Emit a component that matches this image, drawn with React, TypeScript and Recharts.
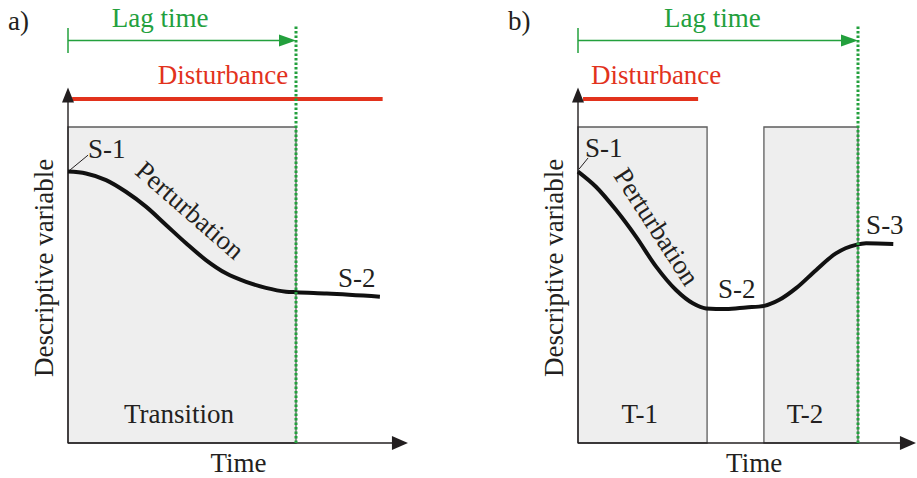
import React from "react";
import {
  ComposedChart,
  Line,
  XAxis,
  YAxis,
  ReferenceArea,
  ReferenceLine,
  ReferenceDot
} from "recharts";

// a) one disturbance, one transition
const curveA = [
  { t: 0, v: 85.9 },
  { t: 7.9, v: 85.3 },
  { t: 16.7, v: 83.2 },
  { t: 25.4, v: 79.5 },
  { t: 34.2, v: 74.8 },
  { t: 43, v: 69 },
  { t: 51.8, v: 63.2 },
  { t: 60.5, v: 57.9 },
  { t: 69.3, v: 53.7 },
  { t: 78.1, v: 51 },
  { t: 86.8, v: 49.1 },
  { t: 95.6, v: 47.9 },
  { t: 100, v: 47.7 },
  { t: 113.5, v: 47.3 },
  { t: 136.8, v: 46.3 }
];
const boxesA = [{ name: "Transition", start: 0, end: 100 }];
const disturbanceA = [1.8, 138];
const lagA = [0, 100];

// b) short disturbance, two transitions
const curveB = [
  { t: 0, v: 85.9 },
  { t: 6.4, v: 81.1 },
  { t: 13.6, v: 73.7 },
  { t: 20.7, v: 65.3 },
  { t: 27.9, v: 55.8 },
  { t: 35, v: 48.4 },
  { t: 41, v: 44.2 },
  { t: 45.7, v: 42.6 },
  { t: 52.9, v: 42.4 },
  { t: 60, v: 42.9 },
  { t: 66.5, v: 43.4 },
  { t: 71.9, v: 45.3 },
  { t: 77.9, v: 49 },
  { t: 85, v: 54.7 },
  { t: 92.1, v: 60 },
  { t: 99.3, v: 62.7 },
  { t: 102.9, v: 63.2 },
  { t: 112.6, v: 63 }
];
const boxesB = [
  { name: "T-1", start: 0, end: 46.1 },
  { name: "T-2", start: 66.4, end: 100 }
];
const disturbanceB = [1.8, 42.9];
const lagB = [0, 100];

const FONT = "'Liberation Serif', 'Times New Roman', serif";
const INK = "#231f20";
const GREEN = "#23a03d";
const RED = "#e2321c";

// shared vertical layout (pixels)
const H = 478;
const Y0 = 443;
const PX_PER_V = 3.16;
const yDomain = [-(H - Y0) / PX_PER_V, Y0 / PX_PER_V];

const LEVEL = {
  axisTop: 112.5,
  disturbance: 108.9,
  disturbanceLabel: 113.6,
  lagArrow: 127.4,
  lagTickLo: 123.4,
  lagTickHi: 131.3,
  lagLabel: 131.6,
  dottedTop: 132.3,
  tag: 130.7,
  boxLabel: 6.3,
  timeLabel: -9.2
};

interface TextItem {
  text: string;
  t: number;
  v: number;
  anchor?: "start" | "middle" | "end";
  rotate?: number;
  color?: string;
}

interface PanelProps {
  left: number;
  width: number;
  x0: number; // pixel of t = 0 inside page
  k: number; // pixels per time unit
  axisEnd: number;
  curve: { t: number; v: number }[];
  boxes: { name: string; start: number; end: number }[];
  disturbance: number[];
  lag: number[];
  tag: string;
  texts: TextItem[];
  leader: number[];
  boxLabelAt: number[];
  lagLabelAt: number;
  disturbanceLabelAt: number;
  timeAt: number;
  yLabelAt: number;
}

const textShape = (item: TextItem) => (p: any) => (
  <text
    x={p.cx}
    y={p.cy}
    textAnchor={item.anchor || "start"}
    transform={item.rotate ? `rotate(${item.rotate} ${p.cx} ${p.cy})` : undefined}
    style={{ fontFamily: FONT, fontSize: 27, fill: item.color || INK }}
  >
    {item.text}
  </text>
);

const arrowRight = (color: string, len: number, half: number) => (p: any) => (
  <polygon
    points={`${p.cx},${p.cy} ${p.cx - len},${p.cy - half} ${p.cx - len},${p.cy + half}`}
    fill={color}
  />
);

const arrowUp = (p: any) => (
  <polygon points={`${p.cx},${p.cy} ${p.cx - 6},${p.cy + 15} ${p.cx + 6},${p.cy + 15}`} fill={INK} />
);

const Panel = (props: PanelProps) => {
  const { left, width, x0, k, curve, boxes, disturbance, lag } = props;
  const xDomain = [(left - x0) / k, (left + width - x0) / k];

  const allTexts: TextItem[] = [
    { text: props.tag, t: xDomain[0] + 8 / k, v: LEVEL.tag },
    { text: "Lag time", t: props.lagLabelAt, v: LEVEL.lagLabel, anchor: "middle", color: GREEN },
    { text: "Disturbance", t: props.disturbanceLabelAt, v: LEVEL.disturbanceLabel, anchor: "middle", color: RED },
    { text: "Time", t: props.timeAt, v: LEVEL.timeLabel, anchor: "middle" },
    { text: "Descriptive variable", t: props.yLabelAt, v: 55.4, anchor: "middle", rotate: -90 },
    ...boxes.map((b, i) => ({ text: b.name, t: props.boxLabelAt[i], v: LEVEL.boxLabel, anchor: "middle" as const })),
    ...props.texts
  ];

  return (
    <div style={{ position: "absolute", left, top: 0 }}>
      <ComposedChart width={width} height={H} data={curve} margin={{ top: 0, right: 0, bottom: 0, left: 0 }}>
        <XAxis type="number" dataKey="t" domain={xDomain} allowDataOverflow hide height={0} />
        <YAxis type="number" domain={yDomain} allowDataOverflow hide width={0} />

        {boxes.map((b) => (
          <ReferenceArea
            key={b.name}
            x1={b.start}
            x2={b.end}
            y1={0}
            y2={100}
            fill="#eeeeee"
            fillOpacity={1}
            stroke="#5c5c5c"
            strokeWidth={1.3}
          />
        ))}

        {/* axes */}
        <ReferenceLine segment={[{ x: 0, y: 0 }, { x: props.axisEnd - 3, y: 0 }]} stroke={INK} strokeWidth={1.4} />
        <ReferenceLine segment={[{ x: 0, y: 0 }, { x: 0, y: LEVEL.axisTop - 1 }]} stroke={INK} strokeWidth={1.4} />
        <ReferenceDot x={props.axisEnd} y={0} shape={arrowRight(INK, 16, 7)} />
        <ReferenceDot x={0} y={LEVEL.axisTop} shape={arrowUp} />

        {/* disturbance */}
        <ReferenceLine
          segment={[{ x: disturbance[0], y: LEVEL.disturbance }, { x: disturbance[1], y: LEVEL.disturbance }]}
          stroke={RED}
          strokeWidth={4}
        />

        {/* lag time */}
        <ReferenceLine
          segment={[{ x: lag[0], y: LEVEL.lagArrow }, { x: lag[1] - 3, y: LEVEL.lagArrow }]}
          stroke={GREEN}
          strokeWidth={1.5}
        />
        <ReferenceLine
          segment={[{ x: lag[0], y: LEVEL.lagTickLo }, { x: lag[0], y: LEVEL.lagTickHi }]}
          stroke={GREEN}
          strokeWidth={1.5}
        />
        <ReferenceDot x={lag[1]} y={LEVEL.lagArrow} shape={arrowRight(GREEN, 17, 6)} />

        <Line
          type="monotone"
          dataKey="v"
          stroke="#111"
          strokeWidth={4}
          dot={false}
          activeDot={false}
          isAnimationActive={false}
        />

        <ReferenceLine
          segment={[{ x: lag[1], y: 0 }, { x: lag[1], y: LEVEL.dottedTop }]}
          stroke={GREEN}
          strokeWidth={3}
          strokeDasharray="2.5 2"
        />

        {/* S-1 leader */}
        <ReferenceLine
          segment={[{ x: props.leader[0], y: props.leader[1] }, { x: props.leader[2], y: props.leader[3] }]}
          stroke={INK}
          strokeWidth={1}
        />

        {allTexts.map((item, i) => (
          <ReferenceDot key={i} x={item.t} y={item.v} shape={textShape(item)} />
        ))}
      </ComposedChart>
    </div>
  );
};

export default function App() {
  return (
    <div
      style={{ position: "absolute", left: 0, top: 0, width: 917, height: H, background: "#fff", fontFamily: FONT }}
    >
      <Panel
        left={0}
        width={458}
        x0={68}
        k={2.28}
        axisEnd={149.1}
        curve={curveA}
        boxes={boxesA}
        disturbance={disturbanceA}
        lag={lagA}
        tag="a)"
        texts={[
          { text: "S-1", t: 8.8, v: 90.2 },
          { text: "Perturbation", t: 50.9, v: 71.5, anchor: "middle", rotate: 41 },
          { text: "S-2", t: 118.4, v: 49.4 }
        ]}
        leader={[0.9, 86.4, 8.8, 91.1]}
        boxLabelAt={[48.7]}
        lagLabelAt={40.4}
        disturbanceLabelAt={68}
        timeAt={74.8}
        yLabelAt={-6.6}
      />
      <Panel
        left={500}
        width={417}
        x0={578}
        k={2.8}
        axisEnd={120.7}
        curve={curveB}
        boxes={boxesB}
        disturbance={disturbanceB}
        lag={lagB}
        tag="b)"
        texts={[
          { text: "S-1", t: 2.5, v: 90.5 },
          { text: "Perturbation", t: 25.4, v: 66.9, anchor: "middle", rotate: 57 },
          { text: "S-2", t: 50, v: 45.9 },
          { text: "S-3", t: 102.9, v: 66.1 }
        ]}
        leader={[0.4, 86.7, 3.6, 90.2]}
        boxLabelAt={[22.1, 81.1]}
        lagLabelAt={48}
        disturbanceLabelAt={27.9}
        timeAt={62.9}
        yLabelAt={-5.4}
      />
    </div>
  );
}
